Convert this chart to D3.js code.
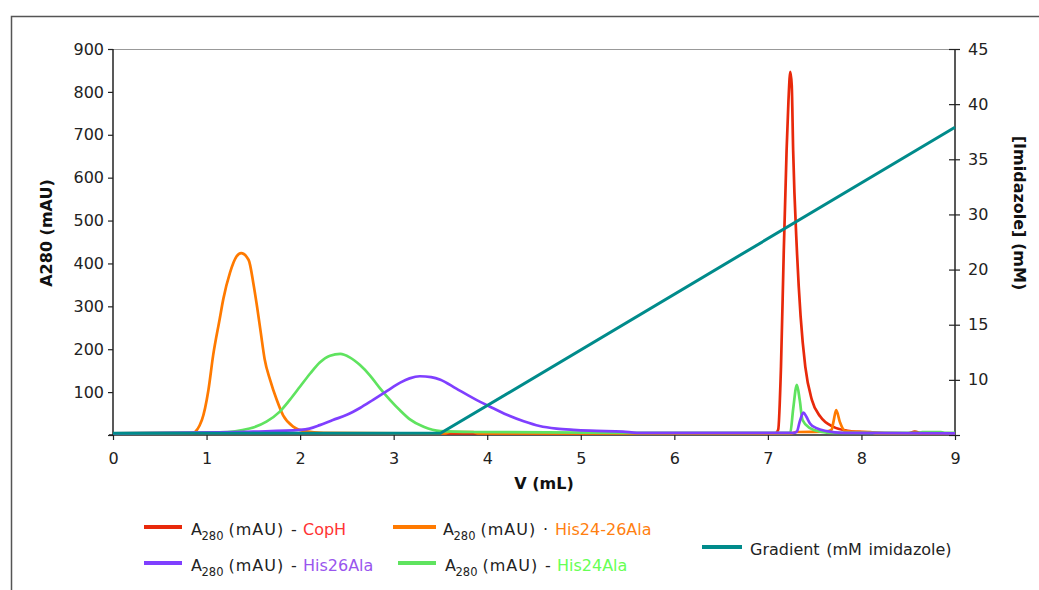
<!DOCTYPE html>
<html>
<head>
<meta charset="utf-8">
<script src="https://cdn.jsdelivr.net/npm/d3@7"></script>
<style>
  html, body { margin: 0; padding: 0; background: #fff; }
  svg { display: block; font-family: "DejaVu Sans", Verdana, sans-serif; }
</style>
</head>
<body>
<svg id="chart" width="1039" height="590"></svg>
<script>
// ---------------- data ----------------
const copHVol   = [0, 7.08, 7.11, 7.14, 7.17, 7.20, 7.22, 7.24, 7.255, 7.27, 7.31, 7.35, 7.40, 7.47, 7.56, 7.70, 7.85, 8.0, 8.5, 8.57, 8.65, 9];
const copHA280  = [4, 4, 12, 159, 431, 664, 780, 847, 815, 664, 431, 276, 159, 82, 43, 19, 10, 7, 4, 8, 4, 4];

const h2426Vol  = [0, 0.85, 0.95, 1.02, 1.07, 1.14, 1.18, 1.25, 1.32, 1.37, 1.45, 1.50, 1.54, 1.58, 1.62, 1.68, 1.75, 1.82, 1.93, 2.05, 2.25, 3.55, 3.6, 3.85, 3.9, 7.25, 7.3, 7.6, 7.68, 7.70, 7.73, 7.77, 7.82, 7.9, 8.1, 8.15, 9];
const h2426A280 = [4, 5, 35, 105, 185, 270, 318, 378, 416, 424, 408, 354, 299, 238, 178, 128, 82, 45, 19, 9, 5, 4, 7, 7, 4, 4, 7, 8, 12, 30, 58, 30, 10, 8, 7, 4, 4];

const h24Vol    = [0, 1.14, 1.46, 1.64, 1.78, 1.89, 2.0, 2.11, 2.21, 2.32, 2.43, 2.53, 2.64, 2.75, 2.85, 2.96, 3.07, 3.17, 3.32, 3.50, 3.85, 5.5, 7.22, 7.24, 7.27, 7.31, 7.34, 7.37, 7.45, 7.56, 7.7, 8.6, 8.65, 8.85, 8.9, 9];
const h24A280   = [4, 6, 15, 31, 54, 82, 113, 144, 169, 185, 189, 181, 163, 138, 110, 82, 57, 37, 19, 9, 7, 5, 5, 6, 60, 117, 82, 35, 16, 8, 5, 5, 7, 7, 5, 5];

const h26Vol    = [0, 1.14, 1.5, 2.0, 2.1, 2.21, 2.35, 2.5, 2.64, 2.78, 2.93, 3.07, 3.17, 3.28, 3.40, 3.50, 3.67, 3.85, 4.03, 4.21, 4.39, 4.56, 4.74, 4.92, 5.10, 5.45, 5.6, 7.28, 7.31, 7.34, 7.38, 7.41, 7.45, 7.52, 7.63, 7.8, 9];
const h26A280   = [4, 6, 8, 12, 15, 23, 35, 47, 63, 82, 103, 122, 132, 137, 135, 129, 108, 86, 66, 47, 32, 21, 15, 12, 10, 8, 5, 5, 8, 31, 52, 43, 27, 16, 9, 5, 4];

const gradVol   = [0, 3.5, 9];
const gradConc  = [10.15, 10.15, 37.9];

const xTicks        = [0, 1, 2, 3, 4, 5, 6, 7, 8, 9];
const leftTicks     = [0, 100, 200, 300, 400, 500, 600, 700, 800, 900];
const leftTickLabels= ["", "100", "200", "300", "400", "500", "600", "700", "800", "900"];
const rightTicks    = [10, 15, 20, 25, 30, 35, 40, 45];
const rightTickLabels = ["", "10", "15", "20", "30", "35", "40", "45"];

const seriesNames  = ["CopH", "His24-26Ala", "His26Ala", "His24Ala"];
const seriesColors = ["#e8290b", "#ff7a00", "#7f3fff", "#5fe35f"];
const nameColors   = ["#ff3333", "#ff7f10", "#9955ee", "#66ff55"];
const gradColor    = "#008b8b";

// ---------------- layout ----------------
const svg = d3.select("#chart");
const L = 113, R = 955, T = 49, B = 435;

const x  = d3.scaleLinear().domain([0, 9]).range([L, R]);
const yL = d3.scaleLinear().domain([0, 900]).range([B, T]);
const yR = d3.scaleLinear().domain([10, 45]).range([B, T]);

svg.append("rect").attr("width", 1039).attr("height", 590).attr("fill", "#fff");
// outer frame
svg.append("rect").attr("x", 11.5).attr("y", 16.5).attr("width", 1100).attr("height", 700)
  .attr("fill", "none").attr("stroke", "#555").attr("stroke-width", 1.5);

// plot top border
svg.append("line").attr("x1", L).attr("x2", R).attr("y1", T + 0.5).attr("y2", T + 0.5)
  .attr("stroke", "#999").attr("stroke-width", 1);

const textColor = "#222";

// x axis
const xAxis = svg.append("g").attr("transform", `translate(0,${B})`)
  .call(d3.axisBottom(x).tickValues(xTicks).tickFormat(d3.format("d")).tickSize(5).tickSizeOuter(0));
xAxis.select(".domain").remove();
xAxis.selectAll(".tick line").attr("stroke", "#222").attr("stroke-width", 1.2);
xAxis.selectAll(".tick text").attr("font-size", 16).attr("fill", textColor).attr("dy", 0).attr("y", 29)
  .attr("font-family", "DejaVu Sans");

// left axis
const yAxisL = svg.append("g").attr("transform", `translate(${L},0)`)
  .call(d3.axisLeft(yL).tickValues(leftTicks).tickFormat((d, i) => leftTickLabels[i]).tickSize(5).tickSizeOuter(0));
yAxisL.select(".domain").remove();
yAxisL.selectAll(".tick line").attr("stroke", "#222").attr("stroke-width", 1.2);
yAxisL.selectAll(".tick text").attr("font-size", 16).attr("fill", textColor).attr("x", -9)
  .attr("font-family", "DejaVu Sans");

// right axis
const yAxisR = svg.append("g").attr("transform", `translate(${R},0)`)
  .call(d3.axisRight(yR).tickValues(rightTicks).tickFormat((d, i) => rightTickLabels[i]).tickSize(5).tickSizeOuter(0));
yAxisR.select(".domain").remove();
yAxisR.selectAll(".tick line").attr("x1", -6).attr("x2", 5).attr("stroke", "#222").attr("stroke-width", 1.2);
yAxisR.selectAll(".tick text").attr("font-size", 16).attr("fill", textColor).attr("x", 13)
  .attr("font-family", "DejaVu Sans");

// axis lines
svg.append("line").attr("x1", L).attr("x2", L).attr("y1", T).attr("y2", B).attr("stroke", "#222").attr("stroke-width", 1.5);
svg.append("line").attr("x1", R).attr("x2", R).attr("y1", T).attr("y2", B).attr("stroke", "#222").attr("stroke-width", 1.5);
svg.append("line").attr("x1", L - 4).attr("x2", R).attr("y1", B).attr("y2", B).attr("stroke", "#222").attr("stroke-width", 1.5);

// axis titles
svg.append("text").attr("x", 544).attr("y", 489).attr("text-anchor", "middle")
  .attr("font-size", 16).attr("font-weight", "bold").attr("fill", "#111").text("V (mL)");
svg.append("text").attr("transform", "translate(52,233) rotate(-90)").attr("text-anchor", "middle")
  .attr("font-size", 16).attr("font-weight", "bold").attr("fill", "#111").text("A280 (mAU)");
svg.append("text").attr("transform", "translate(1014,213) rotate(90)").attr("text-anchor", "middle")
  .attr("font-size", 16).attr("font-weight", "bold").attr("fill", "#111").text("[Imidazole] (mM)");

// ---------------- series ----------------
const lineL = d3.line().x(d => x(d[0])).y(d => yL(d[1])).curve(d3.curveMonotoneX);
const lineR = d3.line().x(d => x(d[0])).y(d => yR(d[1]));

const seriesData = [
  d3.zip(copHVol, copHA280),
  d3.zip(h2426Vol, h2426A280),
  d3.zip(h26Vol, h26A280),
  d3.zip(h24Vol, h24A280)
];
const drawOrder = [0, 1, 3, 2];
drawOrder.forEach(i => {
  svg.append("path").attr("d", lineL(seriesData[i])).attr("fill", "none")
    .attr("stroke", seriesColors[i]).attr("stroke-width", 2.7).attr("stroke-linejoin", "round");
});
svg.append("path").attr("d", lineR(d3.zip(gradVol, gradConc))).attr("fill", "none")
  .attr("stroke", gradColor).attr("stroke-width", 3);

// ---------------- legend ----------------
const legendPos = [
  { lx1: 144, lx2: 182, ly: 527, tx: 191, ty: 535, sep: "-" },
  { lx1: 393, lx2: 436, ly: 527, tx: 443, ty: 535, sep: "·" },
  { lx1: 144, lx2: 182, ly: 563, tx: 191, ty: 571, sep: "-" },
  { lx1: 398, lx2: 436, ly: 563, tx: 445, ty: 571, sep: "-" }
];
seriesNames.forEach((name, i) => {
  const p = legendPos[i];
  svg.append("line").attr("x1", p.lx1).attr("x2", p.lx2).attr("y1", p.ly).attr("y2", p.ly)
    .attr("stroke", seriesColors[i]).attr("stroke-width", 4);
  const t = svg.append("text").attr("y", p.ty).attr("font-size", 16).attr("fill", textColor);
  t.append("tspan").attr("x", p.tx).text("A");
  t.append("tspan").attr("x", p.tx + 10.5).attr("font-size", 11.5).attr("dy", 5).text("280");
  t.append("tspan").attr("x", p.tx + 37.5).attr("dy", -5).attr("letter-spacing", 1).text("(mAU)");
  t.append("tspan").attr("x", p.tx + 100).attr("letter-spacing", 0).text(p.sep);
  t.append("tspan").attr("x", p.tx + 112).attr("fill", nameColors[i]).text(name);
});
svg.append("line").attr("x1", 702).attr("x2", 742).attr("y1", 547).attr("y2", 547)
  .attr("stroke", gradColor).attr("stroke-width", 4);
svg.append("text").attr("x", 750).attr("y", 555).attr("font-size", 16).attr("fill", textColor)
  .attr("word-spacing", 1.5).text("Gradient (mM imidazole)");
</script>
</body>
</html>
